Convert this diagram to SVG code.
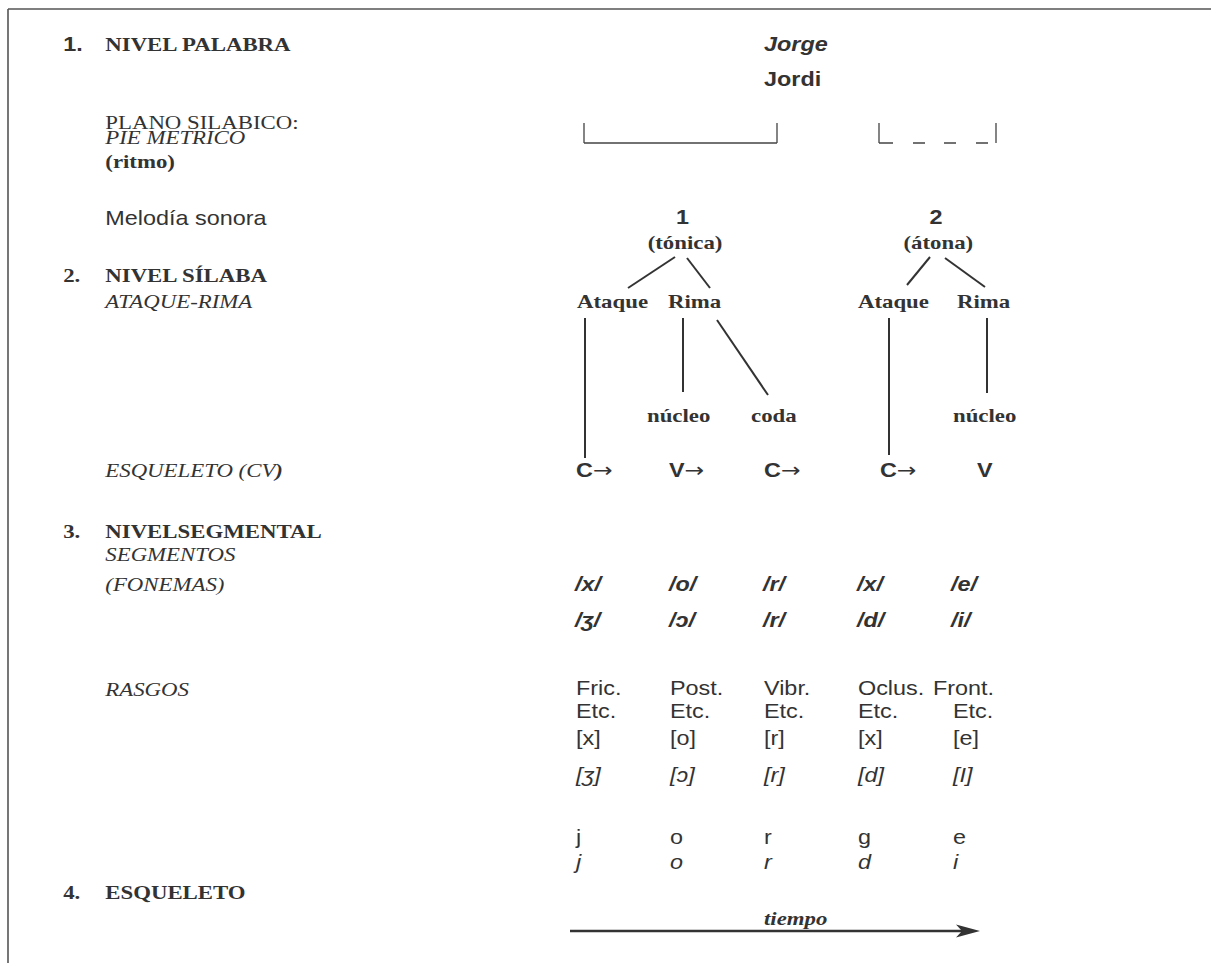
<svg xmlns="http://www.w3.org/2000/svg" width="1211" height="963" viewBox="0 0 1211 963">
  <style>
    text { fill: #333; }
    .sr  { font-family: "Liberation Serif", "Times New Roman", serif; font-size: 19.5px; }
    .sb  { font-family: "Liberation Serif", "Times New Roman", serif; font-size: 19.5px; font-weight: bold; }
    .si  { font-family: "Liberation Serif", "Times New Roman", serif; font-size: 19.5px; font-style: italic; }
    .sbi { font-family: "Liberation Serif", "Times New Roman", serif; font-size: 19.5px; font-weight: bold; font-style: italic; }
    .a   { font-family: "Liberation Sans", Arial, sans-serif; font-size: 20px; }
    .ab  { font-family: "Liberation Sans", Arial, sans-serif; font-size: 20px; font-weight: bold; }
    .ai  { font-family: "Liberation Sans", Arial, sans-serif; font-size: 20px; font-style: italic; }
    .abi { font-family: "Liberation Sans", Arial, sans-serif; font-size: 20px; font-weight: bold; font-style: italic; }
    .arr { font-family: "DejaVu Sans", sans-serif; font-weight: normal; }
    .mid { text-anchor: middle; }
    .frame { stroke: #555; stroke-width: 1.6; fill: none; }
    .tree  { stroke: #333; stroke-width: 2; fill: none; }
    .foot  { stroke: #444; stroke-width: 1.3; fill: none; }
    .time  { stroke: #333; stroke-width: 2.5; fill: none; }
  </style>

  <rect width="1211" height="963" fill="#fff"/>

  <!-- page frame: top and left rules -->
  <path class="frame" d="M8,9 H1211 M8,9 V963"/>

  <!-- connectors -->
  <g id="connectors">
    <!-- metrical feet -->
    <path class="foot" d="M584,123 V143 M584,143 H777 M777,123 V143"/>
    <path class="foot" d="M879,123 V143 M879,143 H893 M913,143 H925 M944,143 H956 M976,143 H988 M996,123 V143"/>
    <!-- syllable 1 -->
    <line class="tree" x1="675" y1="257" x2="628" y2="288"/>
    <line class="tree" x1="687" y1="258" x2="710" y2="288"/>
    <line class="tree" x1="585" y1="318" x2="585" y2="458"/>
    <line class="tree" x1="683" y1="318" x2="683" y2="392"/>
    <line class="tree" x1="717" y1="320" x2="768" y2="395"/>
    <!-- syllable 2 -->
    <line class="tree" x1="930" y1="257" x2="907" y2="285"/>
    <line class="tree" x1="945" y1="258" x2="985" y2="287"/>
    <line class="tree" x1="889" y1="318" x2="889" y2="455"/>
    <line class="tree" x1="987" y1="318" x2="987" y2="393"/>
    <!-- time axis -->
    <line class="time" x1="570" y1="931" x2="962" y2="931"/>
    <polygon points="980,931 956,924.5 962,931 956,937.5" fill="#333"/>
  </g>

  <!-- all labels share a horizontal stretch of 1.17 -->
  <g transform="scale(1.17 1)">
    <g id="level-1">
      <text class="ab" x="54" y="51">1.</text>
      <text class="sb" x="90" y="51">NIVEL PALABRA</text>
      <text class="sr" x="90" y="129">PLANO SILABICO:</text>
      <text class="si" x="90" y="144">PIE METRICO</text>
      <text class="sb" x="90" y="168">(ritmo)</text>
      <text class="a" x="90" y="225">Melodía sonora</text>
    </g>
    <g id="level-2">
      <text class="sb" x="54" y="282">2.</text>
      <text class="sb" x="90" y="282">NIVEL SÍLABA</text>
      <text class="si" x="90" y="308">ATAQUE-RIMA</text>
      <text class="si" x="90" y="477">ESQUELETO (CV<tspan font-weight="bold">)</tspan></text>
    </g>
    <g id="level-3">
      <text class="sb" x="54" y="538">3.</text>
      <text class="sb" x="90" y="538">NIVELSEGMENTAL</text>
      <text class="si" x="90" y="561">SEGMENTOS</text>
      <text class="si" x="90" y="591">(FONEMAS)</text>
      <text class="si" x="90" y="696">RASGOS</text>
    </g>
    <g id="level-4">
      <text class="sb" x="54" y="899">4.</text>
      <text class="sb" x="90" y="899">ESQUELETO</text>
    </g>

    <g id="word">
      <text class="abi" x="653" y="51">Jorge</text>
      <text class="ab" x="653" y="86">Jordi</text>
    </g>

    <g id="syllable-1">
      <text class="ab mid" x="583.3" y="224">1</text>
      <text class="sb mid" x="585.5" y="249">(tónica)</text>
    </g>
    <g id="syllable-2">
      <text class="ab mid" x="800" y="224">2</text>
      <text class="sb mid" x="802" y="249">(átona)</text>
    </g>

    <g id="onset-1"><text class="sb" x="493.2" y="308">Ataque</text></g>
    <g id="rhyme-1"><text class="sb" x="571" y="308">Rima</text></g>
    <g id="onset-2"><text class="sb" x="733.3" y="308">Ataque</text></g>
    <g id="rhyme-2"><text class="sb" x="818" y="308">Rima</text></g>

    <g id="nucleus-1"><text class="sb" x="553" y="422">núcleo</text></g>
    <g id="coda-1"><text class="sb" x="641.9" y="422">coda</text></g>
    <g id="nucleus-2"><text class="sb" x="814.5" y="422">núcleo</text></g>

    <g id="cv-skeleton">
      <text class="ab" x="492.3" y="477">C<tspan class="arr">→</tspan></text>
      <text class="ab" x="571.8" y="477">V<tspan class="arr">→</tspan></text>
      <text class="ab" x="653" y="477">C<tspan class="arr">→</tspan></text>
      <text class="ab" x="752.1" y="477">C<tspan class="arr">→</tspan></text>
      <text class="ab" x="835" y="477">V</text>
    </g>

    <g id="phonemes">
      <text class="abi" x="491.5" y="591">/x/</text>
      <text class="abi" x="571.8" y="591">/o/</text>
      <text class="abi" x="652.1" y="591">/r/</text>
      <text class="abi" x="732.5" y="591">/x/</text>
      <text class="abi" x="812.8" y="591">/e/</text>
      <text class="abi" x="491.5" y="627">/ʒ/</text>
      <text class="abi" x="571.8" y="627">/ɔ/</text>
      <text class="abi" x="652.1" y="627">/r/</text>
      <text class="abi" x="732.5" y="627">/d/</text>
      <text class="abi" x="812.8" y="627">/i/</text>
    </g>

    <g id="features">
      <text class="a" x="492.3" y="695">Fric.</text>
      <text class="a" x="572.6" y="695">Post.</text>
      <text class="a" x="653" y="695">Vibr.</text>
      <text class="a" x="733.3" y="695">Oclus.</text>
      <text class="a" x="797.4" y="695">Front.</text>
      <text class="a" x="492.3" y="718">Etc.</text>
      <text class="a" x="572.6" y="718">Etc.</text>
      <text class="a" x="653" y="718">Etc.</text>
      <text class="a" x="733.3" y="718">Etc.</text>
      <text class="a" x="814.5" y="718">Etc.</text>
      <text class="a" x="492.3" y="745">[x]</text>
      <text class="a" x="572.6" y="745">[o]</text>
      <text class="a" x="653" y="745">[r]</text>
      <text class="a" x="733.3" y="745">[x]</text>
      <text class="a" x="814.5" y="745">[e]</text>
      <text class="ai" x="492.3" y="782">[ʒ]</text>
      <text class="ai" x="572.6" y="782">[ɔ]</text>
      <text class="ai" x="653" y="782">[r]</text>
      <text class="ai" x="733.3" y="782">[d]</text>
      <text class="ai" x="814.5" y="782">[I]</text>
    </g>

    <g id="spelling">
      <text class="a" x="492.3" y="844">j</text>
      <text class="a" x="572.6" y="844">o</text>
      <text class="a" x="653" y="844">r</text>
      <text class="a" x="733.3" y="844">g</text>
      <text class="a" x="814.5" y="844">e</text>
      <text class="ai" x="492.3" y="869">j</text>
      <text class="ai" x="572.6" y="869">o</text>
      <text class="ai" x="653" y="869">r</text>
      <text class="ai" x="733.3" y="869">d</text>
      <text class="ai" x="814.5" y="869">i</text>
    </g>

    <g id="time-label">
      <text class="sbi" x="653" y="925">tiempo</text>
    </g>
  </g>
</svg>
